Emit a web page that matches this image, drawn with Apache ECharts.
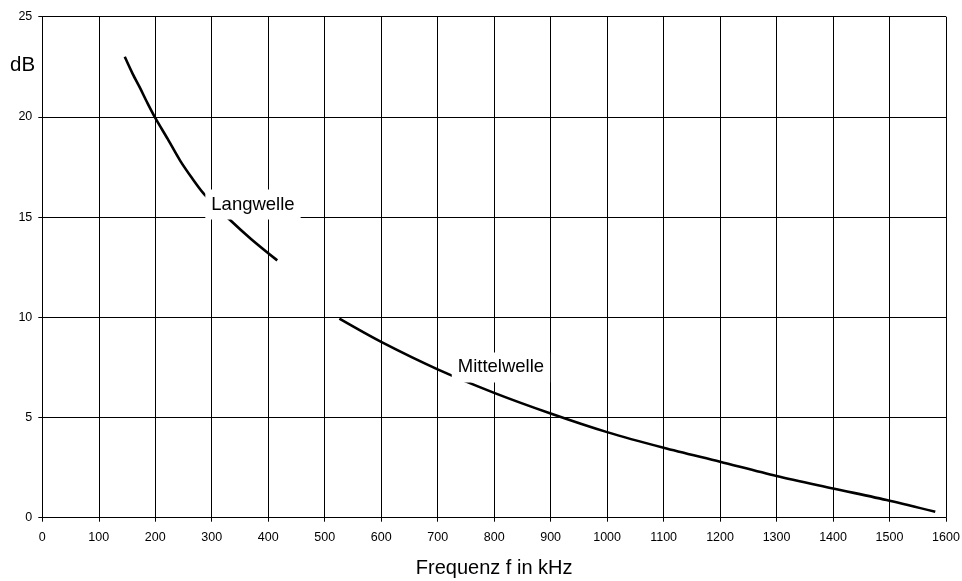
<!DOCTYPE html>
<html>
<head>
<meta charset="utf-8">
<script src="https://cdn.jsdelivr.net/npm/echarts@6/dist/echarts.min.js"></script>
<style>html,body{margin:0;padding:0;background:#fff;overflow:hidden}#c{width:962px;height:581px}</style>
</head>
<body>
<div id="c"></div>
<script>
// Data (kHz, dB)
var langwelleFreq = [146, 160, 173, 186, 200, 222, 244, 265, 285, 310, 332, 370, 416];
var langwelleDb   = [23.0, 22.15, 21.45, 20.7, 19.95, 18.9, 17.82, 16.95, 16.2, 15.5, 14.87, 13.9, 12.84];
var mittelwelleFreq = [526, 600, 700, 800, 900, 1000, 1100, 1200, 1300, 1400, 1500, 1581];
var mittelwelleDb   = [9.93, 8.77, 7.4, 6.23, 5.2, 4.27, 3.49, 2.79, 2.08, 1.46, 0.85, 0.3];
var seriesNames = ['Langwelle', 'Mittelwelle'];
var langLabelAt = [373, 15.63];
var mittelLabelAt = [812, 7.5];
var xTitle = 'Frequenz f in kHz';
var yTitle = 'dB';

function pairs(xs, ys) { return xs.map(function (x, i) { return [x, ys[i]]; }); }

var FONT = '"Liberation Sans", Arial, sans-serif';
var labelStyle = {
  show: true, formatter: '{b}', color: '#000', fontFamily: FONT, fontSize: 18.5,
  backgroundColor: '#fff', padding: [6, 6, 5, 6], position: 'inside'
};

var chart = echarts.init(document.getElementById('c'), null, { renderer: 'canvas' });
chart.setOption({
  animation: false,
  backgroundColor: '#fff',
  grid: { left: 42.3, right: 16, top: 16.7, bottom: 63.3, containLabel: false, outerBoundsMode: 'none' },
  xAxis: {
    type: 'value', min: 0, max: 1600, interval: 100,
    name: xTitle, nameLocation: 'middle', nameGap: 41,
    nameTextStyle: { fontFamily: FONT, fontSize: 20, color: '#000' },
    axisLine: { show: true, onZero: false, lineStyle: { color: '#000', width: 1 } },
    axisTick: { show: true, inside: false, length: 4, lineStyle: { color: '#000' } },
    axisLabel: { fontFamily: FONT, fontSize: 12.5, color: '#000', margin: 13, formatter: function (v) { return String(v); } },
    splitLine: { show: true, lineStyle: { color: '#000', width: 1 } }
  },
  yAxis: {
    type: 'value', min: 0, max: 25, interval: 5,
    axisLine: { show: true, onZero: false, lineStyle: { color: '#000', width: 1 } },
    axisTick: { show: true, inside: false, length: 4, lineStyle: { color: '#000' } },
    axisLabel: { fontFamily: FONT, fontSize: 12.5, color: '#000', margin: 10, formatter: function (v) { return String(v); } },
    splitLine: { show: true, lineStyle: { color: '#000', width: 1 } }
  },
  graphic: [{
    type: 'text', left: 10, top: 55,
    style: { text: yTitle, font: '20.5px ' + FONT, fill: '#000' }
  }],
  series: [{
    name: seriesNames[0], type: 'line', data: pairs(langwelleFreq, langwelleDb),
    showSymbol: false, smooth: 0.3,
    lineStyle: { color: '#000', width: 2.6 },
    markPoint: {
      symbol: 'rect', symbolSize: 0.1, silent: true,
      itemStyle: { color: 'rgba(0,0,0,0)' },
      label: labelStyle,
      data: [{ name: seriesNames[0], coord: langLabelAt }]
    },
    z: 3
  }, {
    name: seriesNames[1], type: 'line', data: pairs(mittelwelleFreq, mittelwelleDb),
    showSymbol: false, smooth: 0.3,
    lineStyle: { color: '#000', width: 2.6 },
    markPoint: {
      symbol: 'rect', symbolSize: 0.1, silent: true,
      itemStyle: { color: 'rgba(0,0,0,0)' },
      label: labelStyle,
      data: [{ name: seriesNames[1], coord: mittelLabelAt }]
    },
    z: 3
  }]
});
</script>
</body>
</html>
